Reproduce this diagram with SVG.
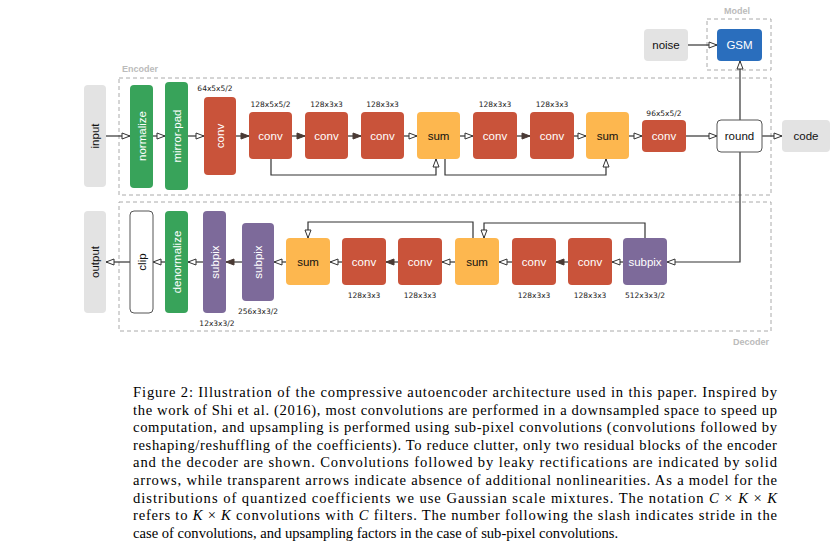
<svg xmlns="http://www.w3.org/2000/svg" width="837" height="555" viewBox="0 0 837 555">
<defs>
<marker id="h" markerWidth="10" markerHeight="8" refX="9" refY="4" orient="auto" markerUnits="userSpaceOnUse"><path d="M1,1 L9,4 L1,7 Z" fill="#fff" stroke="#333" stroke-width="1"/></marker>
<marker id="f" markerWidth="10" markerHeight="8" refX="9" refY="4" orient="auto" markerUnits="userSpaceOnUse"><path d="M1,1 L9,4 L1,7 Z" fill="#4a3a35" stroke="#4a3a35" stroke-width="1"/></marker>
</defs>
<style>
.n{font-family:"Liberation Sans",Arial,sans-serif;font-size:11.5px;text-anchor:middle;dominant-baseline:central}
.w{fill:#fff}.k{fill:#111}
.g{fill:#e3e3e3}.gr{fill:#38a35a}.r{fill:#c9533a}.o{fill:#fdb74f}.p{fill:#7d6a9a}.b{fill:#2a6ebd}.wh{fill:#fff;stroke:#555;stroke-width:1}
.lb{font-family:"DejaVu Sans",sans-serif;font-size:7.5px;text-anchor:middle;fill:#222}
.box{fill:none;stroke:#aaa;stroke-dasharray:4 3;stroke-width:1}
.bt{font-family:"Liberation Sans",Arial,sans-serif;font-size:9px;font-weight:bold;fill:#bbb}
.c{fill:none;stroke:#333;stroke-width:1.2}
.cap{font-family:"Liberation Serif","Times New Roman",serif;font-size:14.6px;fill:#000}
</style>
<rect width="837" height="555" fill="#fff"/>
<g id="frames">
<rect class="box" x="119" y="78" width="652" height="117"/>
<text class="bt" x="122" y="72">Encoder</text>
<rect class="box" x="707" y="19" width="64" height="51"/>
<text class="bt" x="724" y="14">Model</text>
<rect class="box" x="119" y="202" width="652" height="129"/>
<text class="bt" x="733" y="345">Decoder</text>
</g>
<g id="connectors">
<line class="c" x1="106" y1="136" x2="130" y2="136" marker-end="url(#h)"/>
<line class="c" x1="153" y1="136" x2="165" y2="136" marker-end="url(#h)"/>
<line class="c" x1="188" y1="136" x2="204" y2="136" marker-end="url(#h)"/>
<line class="c" x1="236" y1="136" x2="249" y2="136" marker-end="url(#f)"/>
<line class="c" x1="292" y1="136" x2="305" y2="136" marker-end="url(#f)"/>
<line class="c" x1="348" y1="136" x2="361" y2="136" marker-end="url(#f)"/>
<line class="c" x1="404" y1="136" x2="417" y2="136" marker-end="url(#h)"/>
<line class="c" x1="460" y1="136" x2="473" y2="136" marker-end="url(#h)"/>
<line class="c" x1="517" y1="136" x2="530" y2="136" marker-end="url(#f)"/>
<line class="c" x1="574" y1="136" x2="586" y2="136" marker-end="url(#h)"/>
<line class="c" x1="629" y1="136" x2="642" y2="136" marker-end="url(#h)"/>
<line class="c" x1="686" y1="136" x2="717" y2="136" marker-end="url(#h)"/>
<line class="c" x1="762" y1="136" x2="782" y2="136" marker-end="url(#h)"/>
<polyline class="c" points="271,159 271,175 436,175 436,159" marker-end="url(#h)"/>
<polyline class="c" points="445,159 445,175 606,175 606,159" marker-end="url(#h)"/>
<line class="c" x1="688" y1="45" x2="717" y2="45" marker-end="url(#h)"/>
<line class="c" x1="740" y1="120" x2="740" y2="61" marker-end="url(#h)"/>
<polyline class="c" points="740,152 740,262 667,262" marker-end="url(#h)"/>
<line class="c" x1="623" y1="262" x2="612" y2="262" marker-end="url(#h)"/>
<line class="c" x1="568" y1="262" x2="556" y2="262" marker-end="url(#f)"/>
<line class="c" x1="512" y1="262" x2="499" y2="262" marker-end="url(#h)"/>
<line class="c" x1="455" y1="262" x2="442" y2="262" marker-end="url(#h)"/>
<line class="c" x1="398" y1="262" x2="386" y2="262" marker-end="url(#f)"/>
<line class="c" x1="342" y1="262" x2="330" y2="262" marker-end="url(#h)"/>
<line class="c" x1="286" y1="262" x2="274" y2="262" marker-end="url(#h)"/>
<line class="c" x1="242" y1="262" x2="226" y2="262" marker-end="url(#f)"/>
<line class="c" x1="203" y1="262" x2="188" y2="262" marker-end="url(#h)"/>
<line class="c" x1="165" y1="262" x2="153" y2="262" marker-end="url(#h)"/>
<line class="c" x1="130" y1="262" x2="106" y2="262" marker-end="url(#h)"/>
<polyline class="c" points="645,238 645,223 484,223 484,238" marker-end="url(#h)"/>
<polyline class="c" points="473,238 473,222 308,222 308,238" marker-end="url(#h)"/>
</g>
<g id="input"><rect class="g" x="84" y="85" width="22" height="102" rx="4"/><text class="n k" transform="translate(95,136) rotate(-90)">input</text></g>
<g id="normalize"><rect class="gr" x="130" y="85" width="23" height="103" rx="4"/><text class="n w" transform="translate(141.5,136) rotate(-90)">normalize</text></g>
<g id="mirrorpad"><rect class="gr" x="165" y="82" width="23" height="108" rx="4"/><text class="n w" transform="translate(176.5,136) rotate(-90)">mirror-pad</text></g>
<g id="conv0"><rect class="r" x="204" y="97" width="32" height="78" rx="4"/><text class="n w" transform="translate(220,136) rotate(-90)">conv</text><text class="lb" x="215" y="91">64x5x5/2</text></g>
<g id="conv1"><rect class="r" x="249" y="112" width="43" height="47" rx="4"/><text class="n w" x="270.5" y="136">conv</text><text class="lb" x="270.5" y="107">128x5x5/2</text></g>
<g id="conv2"><rect class="r" x="305" y="112" width="43" height="47" rx="4"/><text class="n w" x="326.5" y="136">conv</text><text class="lb" x="326.5" y="107">128x3x3</text></g>
<g id="conv3"><rect class="r" x="361" y="112" width="43" height="47" rx="4"/><text class="n w" x="382.5" y="136">conv</text><text class="lb" x="382.5" y="107">128x3x3</text></g>
<g id="sum1"><rect class="o" x="417" y="112" width="43" height="47" rx="4"/><text class="n k" x="438.5" y="136">sum</text></g>
<g id="conv4"><rect class="r" x="473" y="112" width="44" height="47" rx="4"/><text class="n w" x="495" y="136">conv</text><text class="lb" x="495" y="107">128x3x3</text></g>
<g id="conv5"><rect class="r" x="530" y="112" width="44" height="47" rx="4"/><text class="n w" x="552" y="136">conv</text><text class="lb" x="552" y="107">128x3x3</text></g>
<g id="sum2"><rect class="o" x="586" y="112" width="43" height="47" rx="4"/><text class="n k" x="607.5" y="136">sum</text></g>
<g id="conv6"><rect class="r" x="642" y="120" width="44" height="32" rx="4"/><text class="n w" x="664" y="136">conv</text><text class="lb" x="664" y="116">96x5x5/2</text></g>
<g id="round"><rect class="wh" x="717" y="120" width="45" height="32" rx="4"/><text class="n k" x="739.5" y="136">round</text></g>
<g id="code"><rect class="g" x="782" y="120" width="48" height="32" rx="4"/><text class="n k" x="806" y="136">code</text></g>
<g id="noise"><rect class="g" x="644" y="29" width="44" height="32" rx="4"/><text class="n k" x="666" y="45">noise</text></g>
<g id="gsm"><rect class="b" x="717" y="29" width="45" height="32" rx="4"/><text class="n w" x="739.5" y="45">GSM</text></g>
<g id="output"><rect class="g" x="84" y="211" width="22" height="102" rx="4"/><text class="n k" transform="translate(95,262) rotate(-90)">output</text></g>
<g id="clip"><rect class="wh" x="130" y="211" width="23" height="102" rx="4"/><text class="n k" transform="translate(141.5,262) rotate(-90)">clip</text></g>
<g id="denormalize"><rect class="gr" x="165" y="211" width="23" height="102" rx="4"/><text class="n w" transform="translate(176.5,262) rotate(-90)">denormalize</text></g>
<g id="subpix1"><rect class="p" x="203" y="211" width="23" height="102" rx="4"/><text class="n w" transform="translate(214.5,262) rotate(-90)">subpix</text><text class="lb" x="217" y="326">12x3x3/2</text></g>
<g id="subpix2"><rect class="p" x="242" y="223" width="32" height="78" rx="4"/><text class="n w" transform="translate(258,262) rotate(-90)">subpix</text><text class="lb" x="258" y="314">256x3x3/2</text></g>
<g id="sum3"><rect class="o" x="286" y="238" width="44" height="47" rx="4"/><text class="n k" x="308" y="262">sum</text></g>
<g id="conv7"><rect class="r" x="342" y="238" width="44" height="47" rx="4"/><text class="n w" x="364" y="262">conv</text><text class="lb" x="364" y="298">128x3x3</text></g>
<g id="conv8"><rect class="r" x="398" y="238" width="44" height="47" rx="4"/><text class="n w" x="420" y="262">conv</text><text class="lb" x="420" y="298">128x3x3</text></g>
<g id="sum4"><rect class="o" x="455" y="238" width="44" height="47" rx="4"/><text class="n k" x="477" y="262">sum</text></g>
<g id="conv9"><rect class="r" x="512" y="238" width="44" height="47" rx="4"/><text class="n w" x="534" y="262">conv</text><text class="lb" x="534" y="298">128x3x3</text></g>
<g id="conv10"><rect class="r" x="568" y="238" width="44" height="47" rx="4"/><text class="n w" x="590" y="262">conv</text><text class="lb" x="590" y="298">128x3x3</text></g>
<g id="subpix3"><rect class="p" x="623" y="238" width="44" height="47" rx="4"/><text class="n w" x="645" y="262">subpix</text><text class="lb" x="645" y="298">512x3x3/2</text></g>
<g id="caption" class="cap">
<text x="133" y="397" textLength="644" lengthAdjust="spacing">Figure 2: Illustration of the compressive autoencoder architecture used in this paper. Inspired by</text>
<text x="133" y="414.6" textLength="644" lengthAdjust="spacing">the work of Shi et al. (2016), most convolutions are performed in a downsampled space to speed up</text>
<text x="133" y="432.2" textLength="644" lengthAdjust="spacing">computation, and upsampling is performed using sub-pixel convolutions (convolutions followed by</text>
<text x="133" y="449.8" textLength="644" lengthAdjust="spacing">reshaping/reshuffling of the coefficients). To reduce clutter, only two residual blocks of the encoder</text>
<text x="133" y="467.4" textLength="644" lengthAdjust="spacing">and the decoder are shown. Convolutions followed by leaky rectifications are indicated by solid</text>
<text x="133" y="485" textLength="644" lengthAdjust="spacing">arrows, while transparent arrows indicate absence of additional nonlinearities. As a model for the</text>
<text x="133" y="502.6" textLength="644" lengthAdjust="spacing">distributions of quantized coefficients we use Gaussian scale mixtures. The notation <tspan font-style="italic">C</tspan> × <tspan font-style="italic">K</tspan> × <tspan font-style="italic">K</tspan></text>
<text x="133" y="520.2" textLength="644" lengthAdjust="spacing">refers to <tspan font-style="italic">K</tspan> × <tspan font-style="italic">K</tspan> convolutions with <tspan font-style="italic">C</tspan> filters. The number following the slash indicates stride in the</text>
<text x="133" y="537.8">case of convolutions, and upsampling factors in the case of sub-pixel convolutions.</text>
</g>
</svg>
